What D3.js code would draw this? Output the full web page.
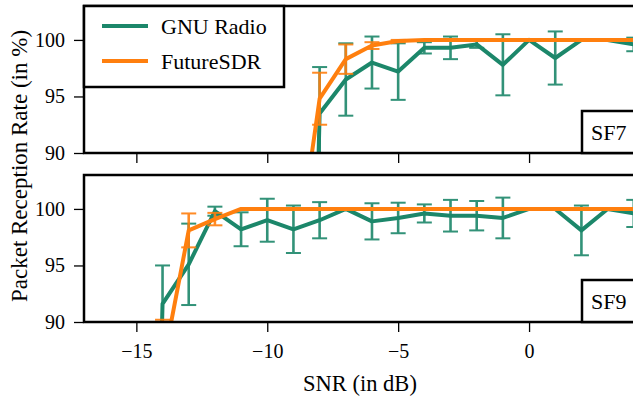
<!DOCTYPE html>
<html>
<head>
<meta charset="utf-8">
<script src="https://cdn.jsdelivr.net/npm/d3@7"></script>
<style>
  body { margin: 0; background: #fff; }
  svg text { font-family: 'Liberation Serif', 'Times New Roman', 'DejaVu Serif', serif; fill: #000; }
</style>
</head>
<body>
<div id="chart"></div>
<script>
// SNR steps (dB)
var snr = [-16, -15, -14, -13, -12, -11, -10, -9, -8, -7, -6, -5, -4, -3, -2, -1, 0, 1, 2, 3, 4, 5];

// SF7 packet reception rate (%), mean and error
var gnuSF7 =     [0, 0, 0, 0, 0, 0, 0, 0, 93.5, 96.5, 98.0, 97.2, 99.3, 99.3, 99.6, 97.8, 100, 98.4, 100, 100, 99.6, 100];
var gnuSF7Err =  [0, 0, 0, 0, 0, 0, 0, 0, 4.1, 3.2, 2.3, 2.5, 0.5, 1.0, 0.3, 2.7, 0, 2.35, 0, 0, 0.6, 0];
var fsdrSF7 =    [0, 0, 0, 0, 0, 0, 0, 78.5, 94.8, 98.3, 99.5, 99.9, 100, 100, 100, 100, 100, 100, 100, 100, 100, 100];
var fsdrSF7Err = [0, 0, 0, 0, 0, 0, 0, 5, 2.3, 1.3, 0.3, 0.1, 0, 0, 0, 0, 0, 0, 0, 0, 0, 0];

// SF9
var gnuSF9 =     [0, 0, 91.6, 95.1, 99.8, 98.2, 99.0, 98.2, 99.0, 100, 98.9, 99.2, 99.6, 99.4, 99.4, 99.2, 100, 100, 98.1, 100, 99.6, 100];
var gnuSF9Err =  [0, 0, 3.4, 3.6, 0.4, 1.5, 1.9, 2.1, 1.6, 0, 1.6, 1.35, 0.8, 1.4, 1.3, 1.8, 0, 0, 2.2, 0, 1.2, 0];
var fsdrSF9 =    [0, 0, 86, 98.1, 99.1, 100, 100, 100, 100, 100, 100, 100, 100, 100, 100, 100, 100, 100, 100, 100, 100, 100];
var fsdrSF9Err = [0, 0, 4.2, 1.5, 0.55, 0, 0, 0, 0, 0, 0, 0, 0, 0, 0, 0, 0, 0, 0, 0, 0, 0];

var yTicks = [90, 95, 100];
var xTicks = [-15, -10, -5, 0];
var seriesNames = ["GNU Radio", "FutureSDR"];

var green = "#1c876a";
var orange = "#ff7f0e";
var serif = "'Liberation Serif', 'Times New Roman', 'DejaVu Serif', serif";

var width = 633, height = 400;

var svg = d3.select("#chart").append("svg")
  .attr("width", width)
  .attr("height", height)
  .attr("font-family", serif);

var x = d3.scaleLinear()
  .domain([-17, 5])
  .range([84, 84 + 22 * 26.18]);

var panels = [
  { name: "SF7", gnu: gnuSF7, gnuErr: gnuSF7Err, fsdr: fsdrSF7, fsdrErr: fsdrSF7Err, top: 6, bottom: 153 },
  { name: "SF9", gnu: gnuSF9, gnuErr: gnuSF9Err, fsdr: fsdrSF9, fsdrErr: fsdrSF9Err, top: 175, bottom: 322 }
];

panels.forEach(function (p, pi) {
  var y = d3.scaleLinear().domain([90, 103]).range([p.bottom, p.top]);
  var g = svg.append("g");

  var clipId = "clip" + pi;
  svg.append("clipPath").attr("id", clipId)
    .append("rect")
    .attr("x", x.range()[0]).attr("y", p.top)
    .attr("width", x.range()[1] - x.range()[0]).attr("height", p.bottom - p.top);

  var plot = g.append("g").attr("clip-path", "url(#" + clipId + ")");

  var line = d3.line()
    .x(function (d) { return x(d.x); })
    .y(function (d) { return y(d.v); });

  function drawSeries(vals, errs, color) {
    var data = snr.map(function (s, i) { return { x: s, v: vals[i], e: errs[i] }; });
    plot.append("path")
      .datum(data)
      .attr("d", line)
      .attr("fill", "none")
      .attr("stroke", color)
      .attr("stroke-width", 4)
      .attr("stroke-linejoin", "round");

    var bars = plot.append("g").attr("opacity", 0.9)
      .selectAll("g")
      .data(data.filter(function (d) { return d.e > 0; }))
      .enter().append("g");
    bars.append("line")
      .attr("x1", function (d) { return x(d.x); })
      .attr("x2", function (d) { return x(d.x); })
      .attr("y1", function (d) { return y(d.v - d.e); })
      .attr("y2", function (d) { return y(d.v + d.e); })
      .attr("stroke", color).attr("stroke-width", 2.6);
    [-1, 1].forEach(function (sgn) {
      bars.append("line")
        .attr("x1", function (d) { return x(d.x) - 7.5; })
        .attr("x2", function (d) { return x(d.x) + 7.5; })
        .attr("y1", function (d) { return y(d.v + sgn * d.e); })
        .attr("y2", function (d) { return y(d.v + sgn * d.e); })
        .attr("stroke", color).attr("stroke-width", 2);
    });
  }

  drawSeries(p.gnu, p.gnuErr, green);
  drawSeries(p.fsdr, p.fsdrErr, orange);

  // y axis
  var yAxis = g.append("g")
    .attr("transform", "translate(" + x.range()[0] + ",0)")
    .call(d3.axisLeft(y).tickValues(yTicks).tickSize(10).tickPadding(9));
  yAxis.attr("font-family", serif).attr("font-size", 20);
  yAxis.select(".domain").remove();
  yAxis.selectAll(".tick line").attr("stroke", "#000").attr("stroke-width", 1.3);

  // x axis
  var xAxis = g.append("g")
    .attr("transform", "translate(0," + p.bottom + ")")
    .call(d3.axisBottom(x).tickValues(xTicks).tickSize(10).tickPadding(12));
  xAxis.attr("font-family", serif).attr("font-size", 20);
  xAxis.select(".domain").remove();
  xAxis.selectAll(".tick line").attr("stroke", "#000").attr("stroke-width", 1.3);
  if (pi === 0) xAxis.selectAll(".tick text").remove();

  // frame
  g.append("rect")
    .attr("x", x.range()[0]).attr("y", p.top)
    .attr("width", x.range()[1] - x.range()[0]).attr("height", p.bottom - p.top)
    .attr("fill", "none").attr("stroke", "#000").attr("stroke-width", 2.5);

  // panel tag box
  g.append("rect")
    .attr("x", 582).attr("y", p.bottom - 42)
    .attr("width", 120).attr("height", 42)
    .attr("fill", "#fff").attr("stroke", "#000").attr("stroke-width", 2.5);
  g.append("text")
    .attr("x", 591).attr("y", p.bottom - 21)
    .attr("dy", "0.35em")
    .attr("font-size", 22)
    .text(p.name);

  if (pi === 0) {
    var leg = g.append("g");
    leg.append("rect")
      .attr("x", 84).attr("y", 6).attr("width", 200).attr("height", 81)
      .attr("fill", "#fff").attr("stroke", "#000").attr("stroke-width", 2.5);
    [green, orange].forEach(function (c, i) {
      var ly = 26 + i * 35;
      leg.append("line")
        .attr("x1", 102).attr("x2", 148).attr("y1", ly).attr("y2", ly)
        .attr("stroke", c).attr("stroke-width", 4);
      leg.append("text")
        .attr("x", 161).attr("y", ly).attr("dy", "0.35em")
        .attr("font-size", 22)
        .text(seriesNames[i]);
    });
  }
});

svg.append("text")
  .attr("x", 360).attr("y", 391)
  .attr("text-anchor", "middle")
  .attr("font-size", 22.5)
  .text("SNR (in dB)");

svg.append("text")
  .attr("transform", "translate(27,166) rotate(-90)")
  .attr("text-anchor", "middle")
  .attr("font-size", 23)
  .text("Packet Reception Rate (in %)");
</script>
</body>
</html>
